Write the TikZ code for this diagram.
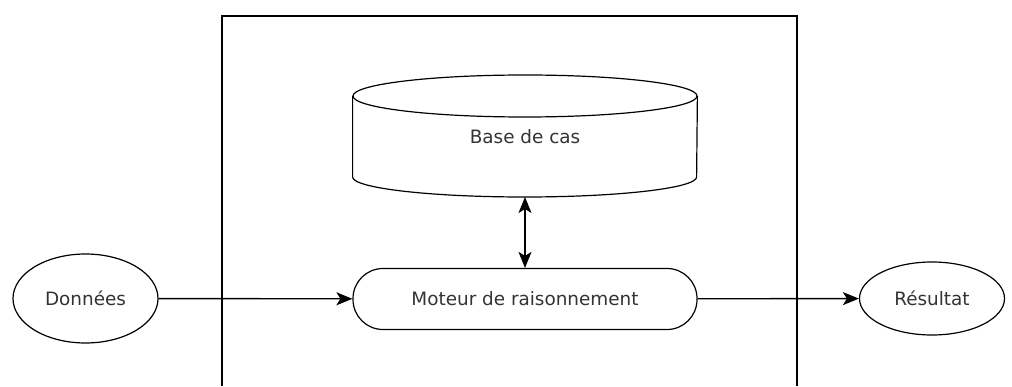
\documentclass[tikz,border=0pt]{standalone}
\usepackage{fontspec}
\setmainfont{DejaVu Sans}
\usepackage{tikz}
\usetikzlibrary{arrows.meta,positioning,shapes}
\tikzset{
	flow/.style={
		-{Stealth[length=8pt,width=6.5pt,inset=2pt]},
		line width=0.7pt
	},
	readwrite/.style={
		{Stealth[length=8pt,width=6.5pt,inset=2pt]}-{Stealth[length=8pt,width=6.5pt,inset=2pt]},
		line width=0.7pt
	}
}

\begin{document}
\begin{tikzpicture}[
					x=0.5pt,y=0.5pt,
					font=\fontsize{9.2}{11}\selectfont,
					text=black!80,
					terminal/.style={
						ellipse,
						draw=black, line width=0.6pt,
						inner sep=0pt,
						minimum width=72.5pt,
						minimum height=#1
					},
					engine/.style={
						rectangle,
						rounded corners=15pt,
						draw=black, line width=0.6pt,
						minimum width=172pt,
						minimum height=30.5pt
					},
					store/.style={
						rectangle,
						inner sep=0pt,
						minimum width=172pt,
						minimum height=61pt
					}]

					\useasboundingbox (0,0) rectangle (1012,386);

					%%% Frame of the system (open at the bottom)
					\draw[line width=0.7pt] (222,0) -- (222,370) -- (797,370) -- (797,0);

					%%% Nodes
					\node at (525,249) [store] (base) {Base de cas};
					\node at (525,87) [engine] (moteur) {Moteur de raisonnement};
					\node at (85.5,87.5) [terminal=44.5pt] (donnees) {Données};
					\node at (932,87.5) [terminal=36.5pt] (resultat) {Résultat};

					%% Cylinder of the case base
					\draw[line width=0.6pt]
						(base.west |- 0,290) -- (base.west |- 0,209)
						arc[start angle=180,end angle=360,x radius=172,y radius=20]
						-- (base.east |- 0,290);
					\draw[line width=0.6pt] (525,290) ellipse [x radius=172,y radius=21];
					\coordinate (basebottom) at (525,189);

					%%% Connections
					\draw[flow] (donnees) -- (moteur);
					\draw[flow] (moteur) -- (resultat);
					\draw[readwrite] (basebottom) -- (moteur);
				\end{tikzpicture}
\end{document}
